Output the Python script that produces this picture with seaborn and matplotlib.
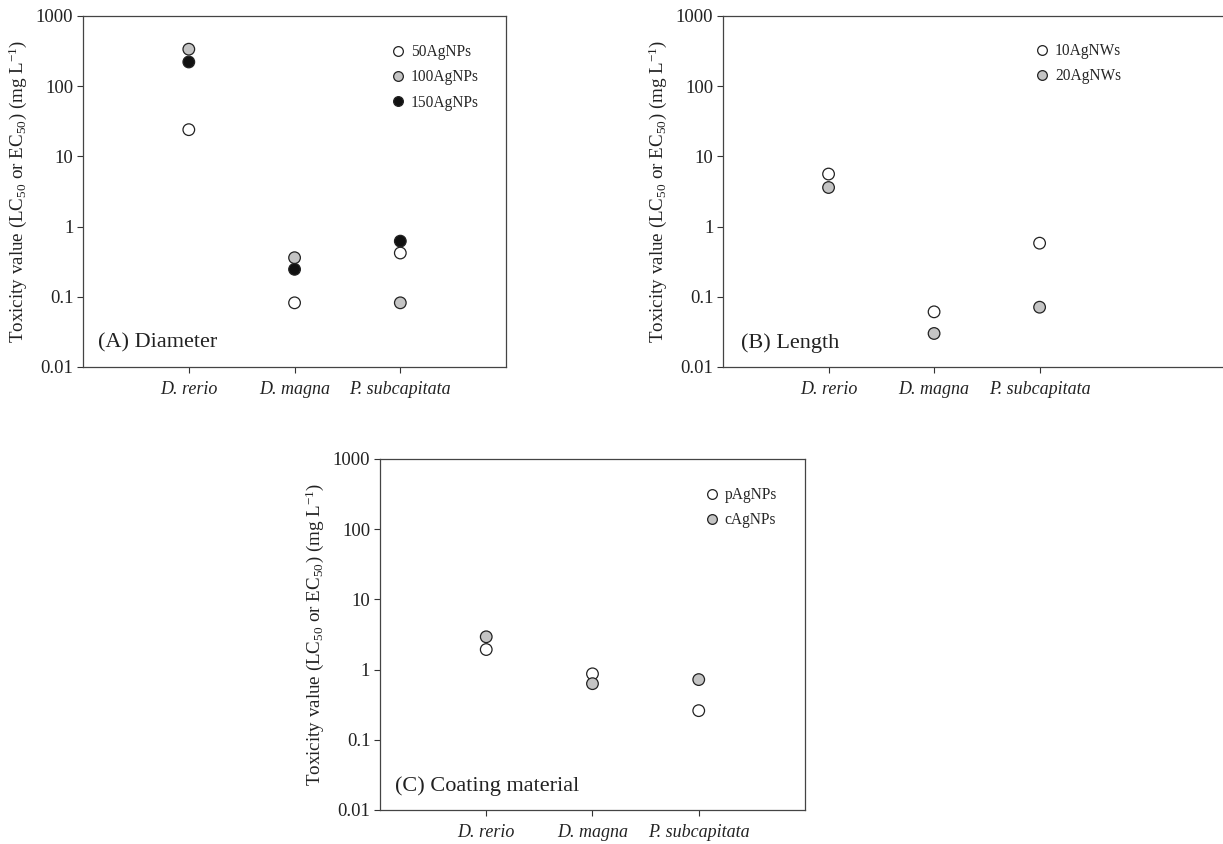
import numpy as np
import pandas as pd
from matplotlib import pyplot as plt
from matplotlib.lines import Line2D
import seaborn as sns

sns.set_style("ticks")
plt.rcParams["font.family"] = ["Liberation Serif", "DejaVu Serif"]
plt.rcParams["mathtext.fontset"] = "custom"
plt.rcParams["mathtext.rm"] = "Liberation Serif"
plt.rcParams["mathtext.it"] = "Liberation Serif:italic"

species = ["D. rerio", "D. magna", "P. subcapitata"]

# (A) Diameter
diam_50 = [24, 0.082, 0.42]
diam_100 = [336, 0.36, 0.082]
diam_150 = [221, 0.246, 0.62]

# (B) Length
len_10 = [5.6, 0.061, 0.58]
len_20 = [3.6, 0.030, 0.071]

# (C) Coating material
coat_p = [1.93, 0.87, 0.26]
coat_c = [2.93, 0.63, 0.72]

WHITE, GREY, BLACK = "white", "#c4c4c4", "#111111"

panels = [
    {"title": "(A) Diameter", "pos": [0.0679, 0.5652, 0.3459, 0.4159], "xmax": 3.0,
     "leg": (0.723, 0.920),
     "series": [("50AgNPs", diam_50, WHITE), ("100AgNPs", diam_100, GREY), ("150AgNPs", diam_150, BLACK)]},
    {"title": "(B) Length", "pos": [0.5912, 0.5652, 0.4150, 0.4159], "xmax": 3.81,
     "leg": (0.611, 0.923),
     "series": [("10AgNWs", len_10, WHITE), ("20AgNWs", len_20, GREY)]},
    {"title": "(C) Coating material", "pos": [0.3107, 0.0403, 0.3475, 0.4159], "xmax": 3.0,
     "leg": (0.760, 0.920),
     "series": [("pAgNPs", coat_p, WHITE), ("cAgNPs", coat_c, GREY)]},
]

fig = plt.figure(figsize=(12.23, 8.44), dpi=100)

for p in panels:
    ax = fig.add_axes(p["pos"])
    rows = []
    for name, vals, _ in p["series"]:
        for i, v in enumerate(vals):
            rows.append({"x": i, "value": v, "group": name})
    df = pd.DataFrame(rows)
    palette = {name: c for name, _, c in p["series"]}
    sns.scatterplot(data=df, x="x", y="value", hue="group", palette=palette,
                    s=70, edgecolor="#222222", linewidth=0.9, legend=False,
                    ax=ax, zorder=3, clip_on=False)
    ax.set_yscale("log")
    ax.set_ylim(0.01, 1000)
    ax.set_xlim(-1, p["xmax"])
    ax.set_yticks([0.01, 0.1, 1, 10, 100, 1000])
    ax.set_yticklabels(["0.01", "0.1", "1", "10", "100", "1000"])
    ax.minorticks_off()
    ax.set_xticks(range(len(species)))
    ax.set_xticklabels(species, style="italic")
    ax.tick_params(axis="both", direction="out", length=4, width=0.8,
                   labelsize=13.5, color="#333333", labelcolor="#222222", pad=3)
    ax.tick_params(axis="x", labelsize=13, pad=6)
    ax.set_xlabel("")
    ax.set_ylabel(r"Toxicity value (LC$_{50}$ or EC$_{50}$) (mg L$^{-1}$)", fontsize=13.7,
                  color="#222222", labelpad=5)
    for sp in ax.spines.values():
        sp.set_visible(True)
        sp.set_linewidth(0.9)
        sp.set_color("#444444")
    ax.text(0.035, 0.055, p["title"], transform=ax.transAxes, fontsize=16, color="#222222")

    handles = [Line2D([], [], linestyle="none", marker="o", markersize=7,
                      markerfacecolor=c, markeredgecolor="#222222", markeredgewidth=0.9,
                      label=name) for name, _, c in p["series"]]
    ax.legend(handles=handles, loc="upper left", bbox_to_anchor=p["leg"],
              frameon=False, fontsize=11.2, handletextpad=0.2, labelspacing=0.6,
              borderaxespad=0.0, borderpad=0.0, handlelength=1.2)

fig.savefig("out.png", dpi=100)
plt.close(fig)
